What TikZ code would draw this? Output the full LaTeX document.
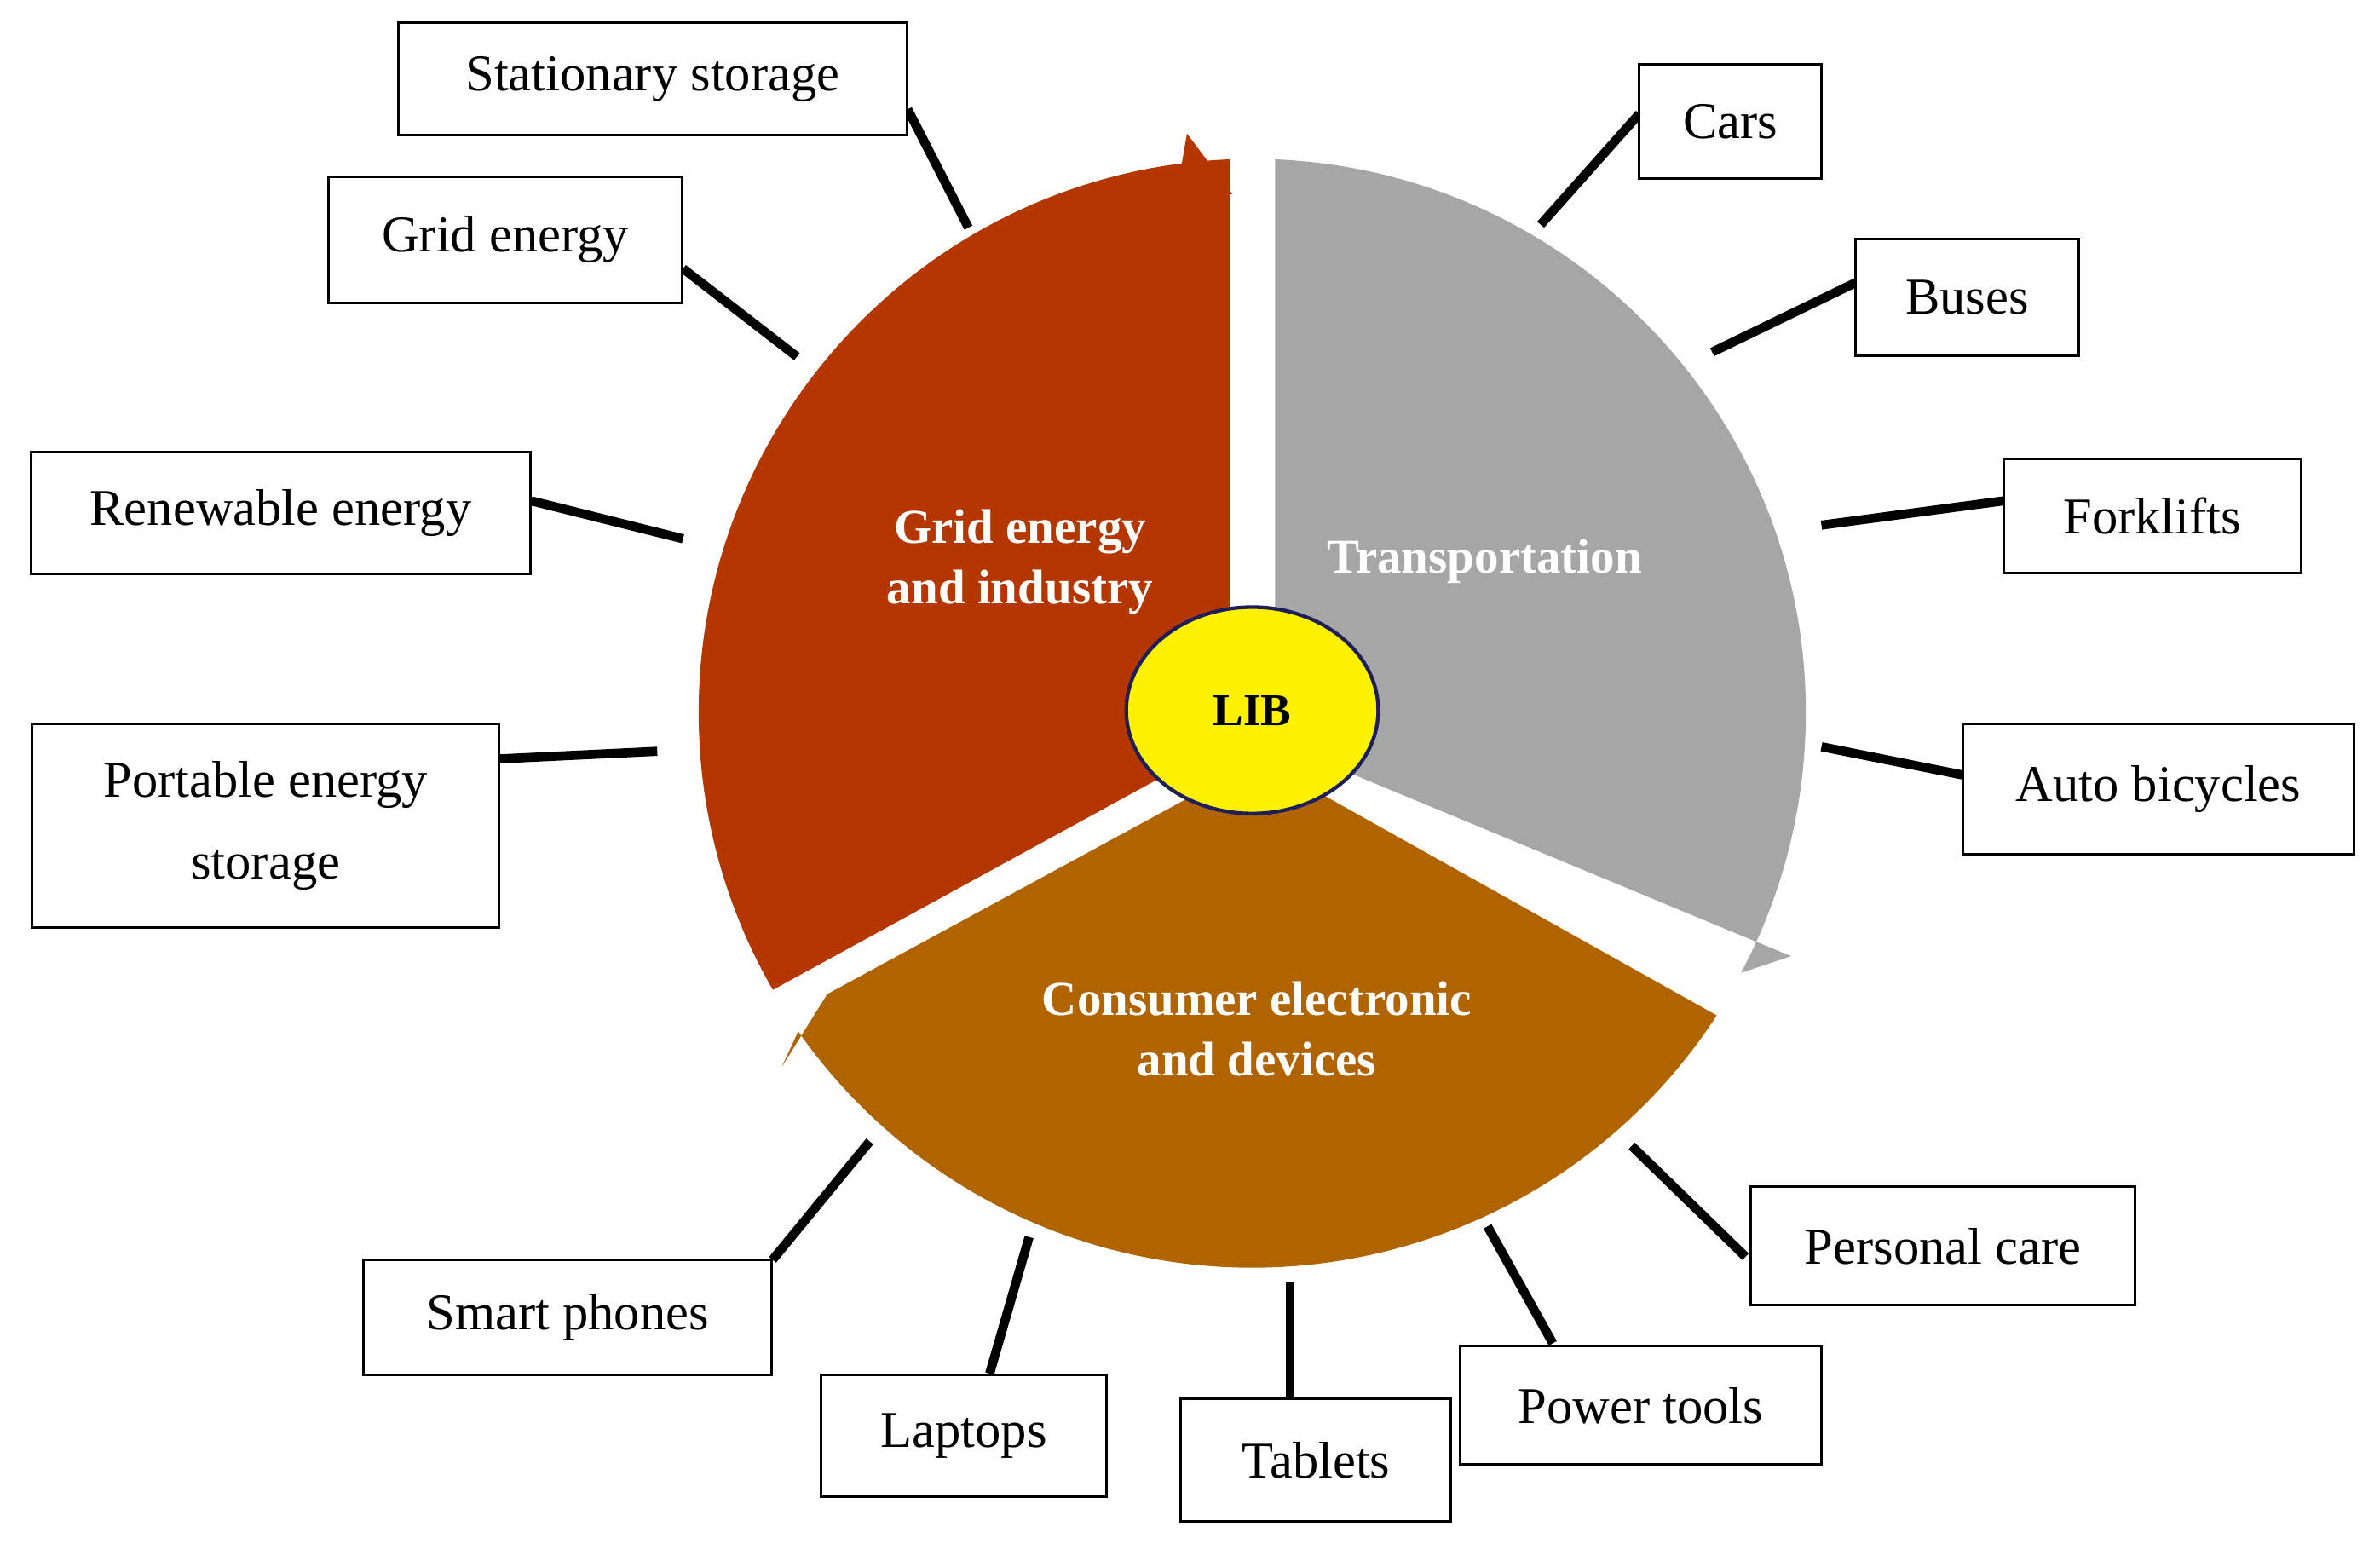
\documentclass[tikz,border=0pt]{standalone}
\usepackage{fontspec}
\usetikzlibrary{shapes.geometric}
\setmainfont{Liberation Serif}
\definecolor{cred}{RGB}{180,55,0}
\definecolor{cgray}{RGB}{166,166,166}
\definecolor{cbrown}{RGB}{176,100,0}
\definecolor{cnavy}{RGB}{30,30,90}
\begin{document}
\begin{tikzpicture}[x=0.5pt,y=0.5pt,
  box/.style={draw=black,line width=0.8pt,fill=white,align=center,inner sep=0pt,font=\fontsize{17}{27}\selectfont},
  conn/.style={line width=3pt,black},
  seclab/.style={text=white,font=\bfseries\fontsize{16}{20}\selectfont,align=center}]
\useasboundingbox (0,0) rectangle (1568,1021);
% sectors
\fill[cred] (810,540) -- (810,916) arc[start angle=92.4,end angle=210,radius=365] -- (800,528) -- cycle;
\fill[cred] (778,910) -- (782,933) -- (812,893) -- (790,893) -- cycle;
\fill[cgray] (840,540) -- (840,916) arc[start angle=87.6,end angle=-28,radius=365] -- (1180,391) -- (850,528) -- cycle;
\fill[cbrown] (840,515) -- (1131,352) arc[start angle=-33,end angle=-145,radius=365] -- (515,318) -- (545,366) -- (810,510) -- cycle;
\node[seclab] (tg) at (672,651) {Grid energy\\and industry};
\node[seclab] (tt) at (978,651) {Transportation};
\node[seclab] (tc) at (828,343) {Consumer electronic\\and devices};
\node[draw=cnavy,line width=1.2pt,fill=yellow,ellipse,minimum width={0.5*166},minimum height={0.5*136},inner sep=0pt,font=\bfseries\fontsize{15}{18}\selectfont] (lib) at (825,553) {LIB};
% connectors
\coordinate (a1) at (598,949); \coordinate (e1) at (638,871);
\coordinate (a2) at (450,844); \coordinate (e2) at (525,786);
\coordinate (a3) at (350,691); \coordinate (e3) at (450,666);
\coordinate (a4) at (329,521); \coordinate (e4) at (433,526);
\coordinate (a5) at (1080,946); \coordinate (e5) at (1015,873);
\coordinate (a6) at (1223,835); \coordinate (e6) at (1128,789);
\coordinate (a7) at (1320,691); \coordinate (e7) at (1200,675);
\coordinate (a8) at (1300,509); \coordinate (e8) at (1200,529);
\coordinate (a9) at (1150,193); \coordinate (e9) at (1075,266);
\coordinate (a10) at (1023,136); \coordinate (e10) at (980,213);
\coordinate (a11) at (850,99); \coordinate (e11) at (850,176);
\coordinate (a12) at (652,116); \coordinate (e12) at (678,206);
\coordinate (a13) at (509,191); \coordinate (e13) at (573,269);
\foreach \i in {1,...,13}{\draw[conn] (a\i) -- (e\i);}
% boxes
\node[box,minimum width={0.5*335},minimum height={0.5*74}] (b1) at (430,969) {Stationary storage};
\node[box,minimum width={0.5*233},minimum height={0.5*83}] (b2) at (333,863) {Grid energy};
\node[box,minimum width={0.5*329},minimum height={0.5*80}] (b3) at (185,683) {Renewable energy};
\node[box,minimum width={0.5*308},minimum height={0.5*134}] (b4) at (175,477) {Portable energy\\storage};
\node[box,minimum width={0.5*120},minimum height={0.5*75}] (b5) at (1140,941) {Cars};
\node[box,minimum width={0.5*147},minimum height={0.5*77}] (b6) at (1296,825) {Buses};
\node[box,minimum width={0.5*196},minimum height={0.5*75}] (b7) at (1418,681) {Forklifts};
\node[box,minimum width={0.5*258},minimum height={0.5*86}] (b8) at (1422,501) {Auto bicycles};
\node[box,minimum width={0.5*253},minimum height={0.5*78}] (b9) at (1280,200) {Personal care};
\node[box,minimum width={0.5*238},minimum height={0.5*78}] (b10) at (1081,95) {Power tools};
\node[box,minimum width={0.5*178},minimum height={0.5*81}] (b11) at (867,59) {Tablets};
\node[box,minimum width={0.5*188},minimum height={0.5*80}] (b12) at (635,75) {Laptops};
\node[box,minimum width={0.5*269},minimum height={0.5*76}] (b13) at (374,153) {Smart phones};
\end{tikzpicture}
\end{document}
